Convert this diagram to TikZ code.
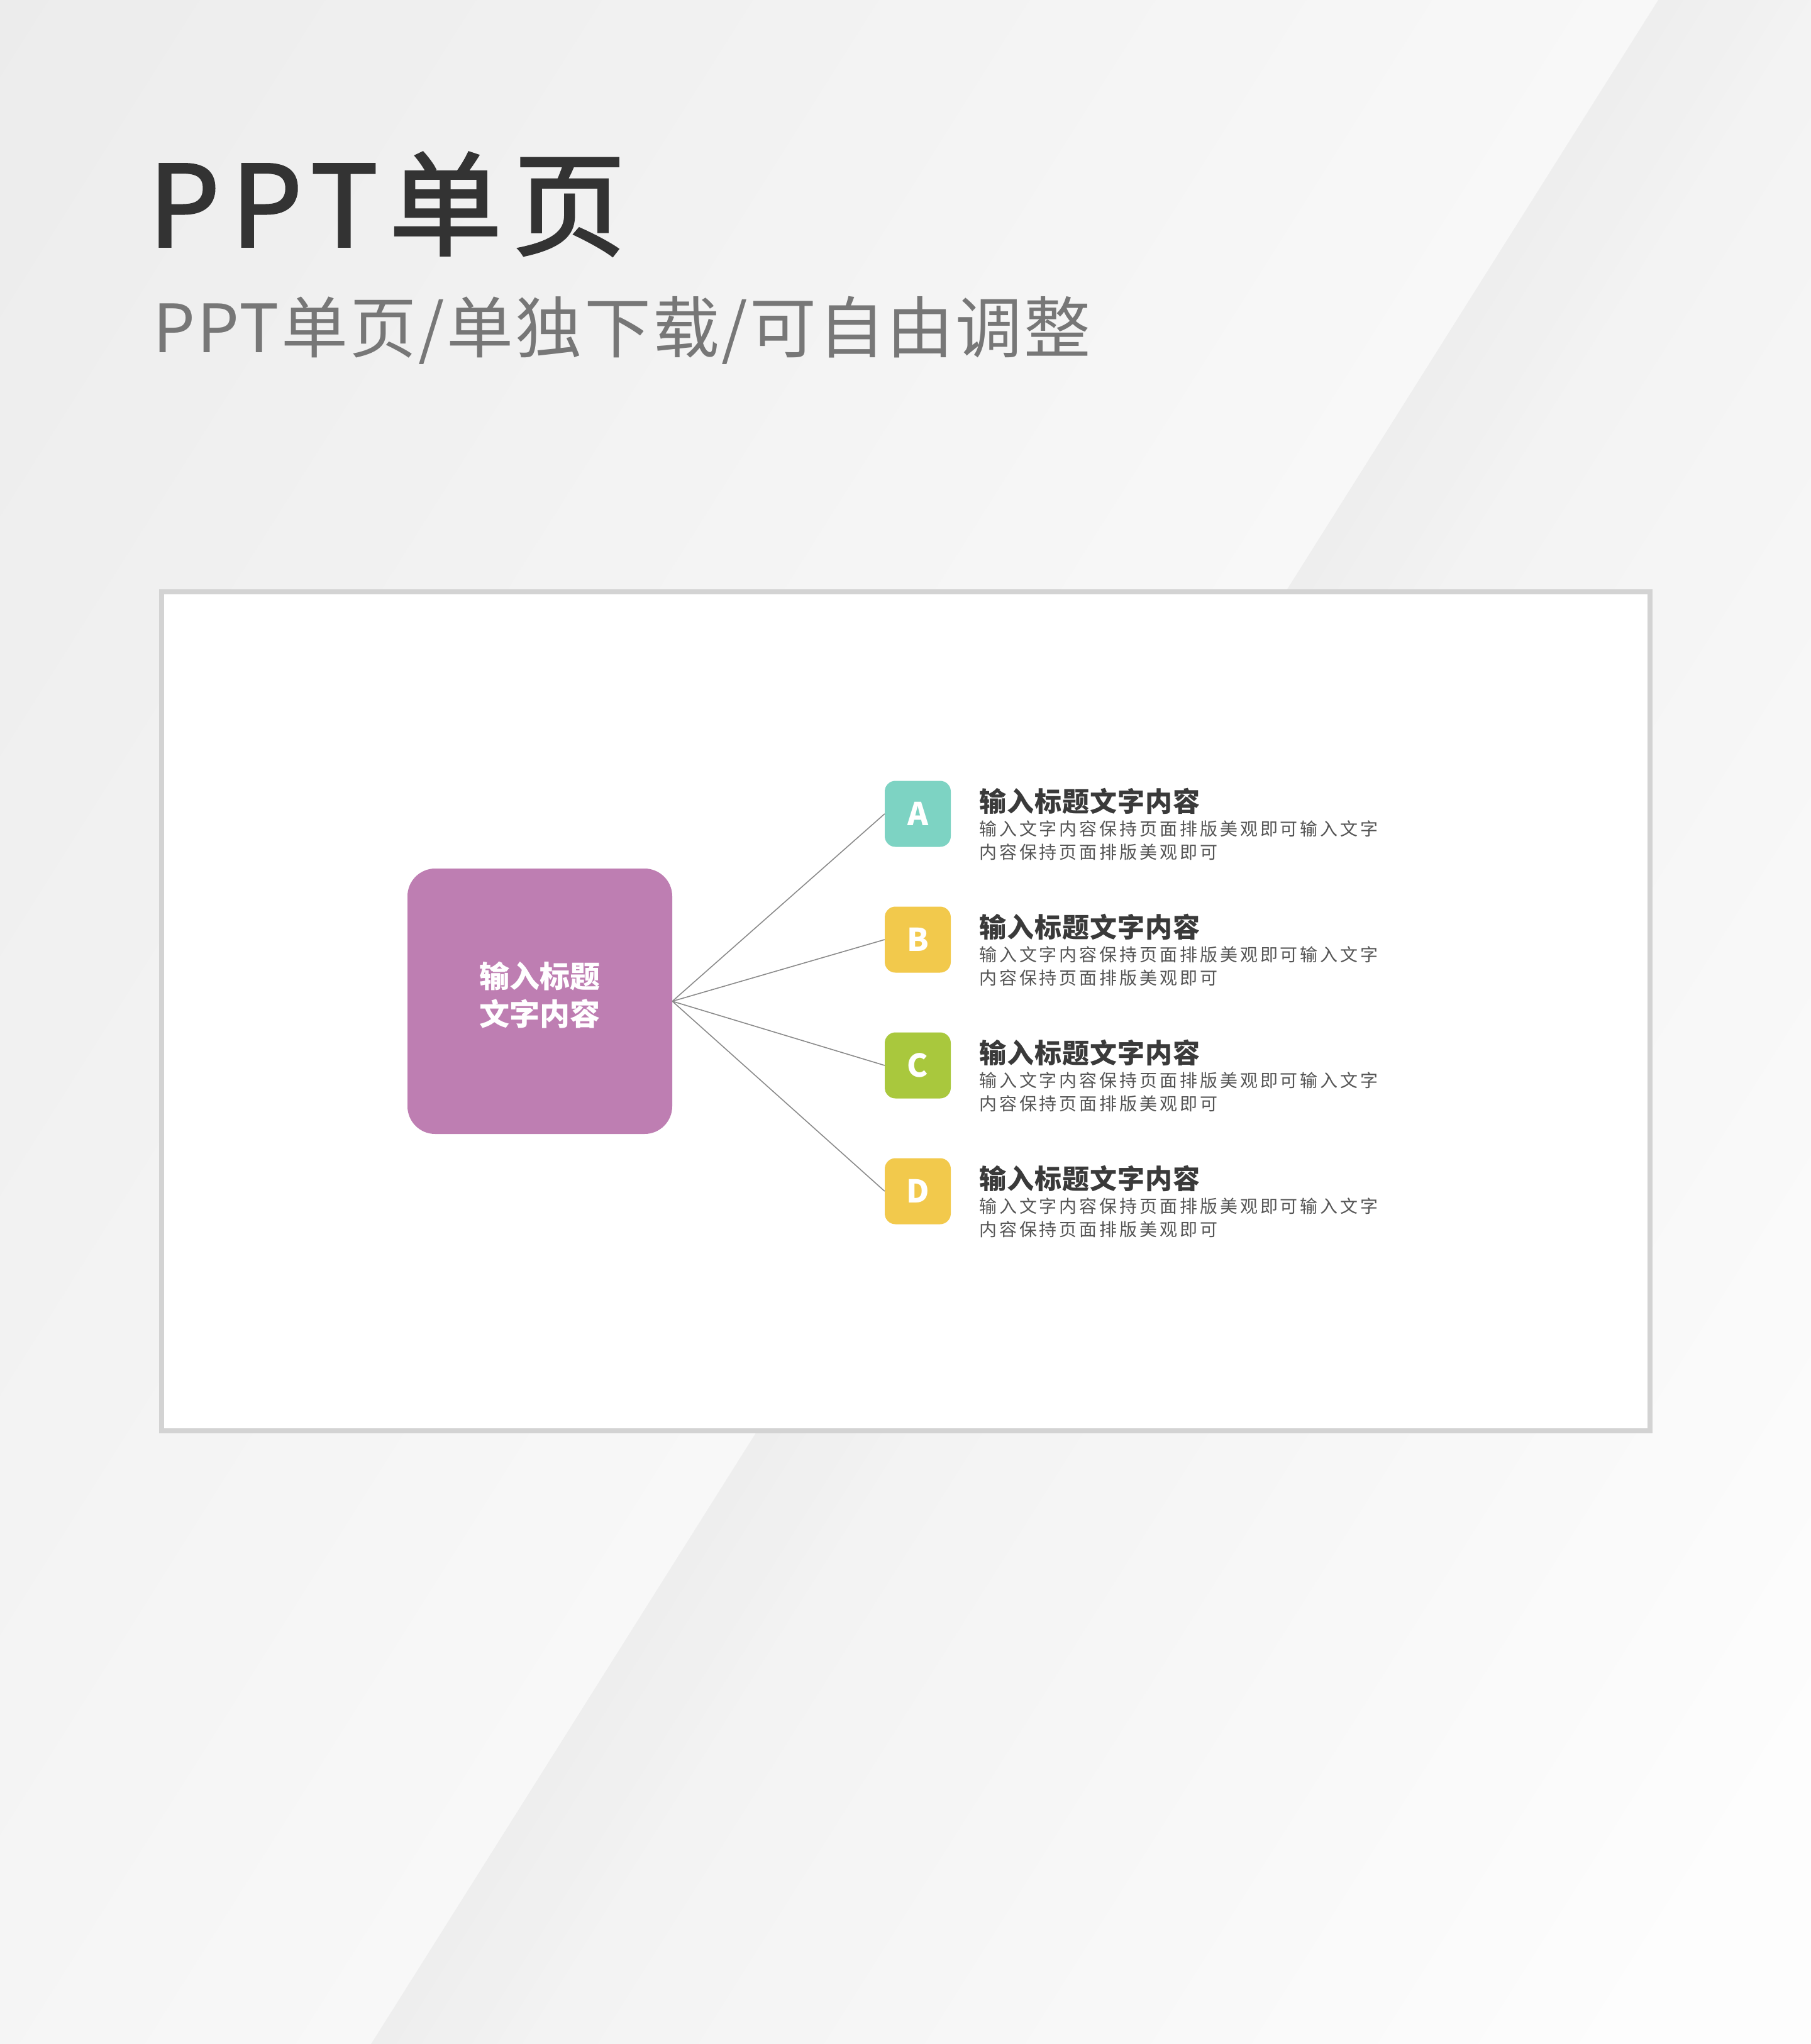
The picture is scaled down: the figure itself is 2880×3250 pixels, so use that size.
\documentclass[tikz,border=0pt]{standalone}
\usepackage{fontspec}
\setmainfont{Noto Sans CJK SC}
\newfontfamily\cjk{Noto Sans CJK SC}
\definecolor{framegray}{HTML}{D3D3D3}
\definecolor{titlegray}{HTML}{333333}
\definecolor{subgray}{HTML}{777777}
\definecolor{purplebox}{HTML}{BE7EB2}
\definecolor{cteal}{HTML}{7DD3C3}
\definecolor{cyellow}{HTML}{F2C94C}
\definecolor{cgreen}{HTML}{A9C83D}
\definecolor{headgray}{HTML}{3A3A3A}
\definecolor{bodygray}{HTML}{555555}
\definecolor{linkgray}{HTML}{8A8A8A}
\tikzset{
  mainbox/.style={draw=none, fill=purplebox, rounded corners=44pt, minimum width=421pt, minimum height=422pt, inner sep=0pt},
  maintext/.style={inner sep=0pt, align=center, text=white, font=\cjk\bfseries\fontsize{48}{60}\selectfont},
  sqbox/.style={draw=none, rounded corners=17pt, minimum width=105pt, minimum height=105pt, inner sep=0pt, text=white, font=\cjk\bfseries\fontsize{50}{50}\selectfont},
  headtext/.style={inner sep=0pt, anchor=north west, text=headgray, font=\cjk\bfseries\fontsize{43}{43}\selectfont\addfontfeatures{LetterSpace=2.5}},
  bodytext/.style={inner sep=0pt, anchor=north west, align=left, text=bodygray, font=\cjk\fontsize{28}{36.5}\selectfont\addfontfeatures{LetterSpace=14}},
  link/.style={draw=linkgray, line width=1.6pt},
  band/.style={draw=none, fill=bandc}
}
\begin{document}
\begin{tikzpicture}[x=1pt,y=-1pt]
\useasboundingbox (0,0) rectangle (2880,3250);
% background: left of the diagonal
\foreach \i in {0,...,66}{
  \pgfmathsetmacro\da{\i*40}
  \pgfmathsetmacro\db{\i*40+41}
  \pgfmathsetmacro\g{(248-12*min(1,\da/2637))/255}
  \definecolor{bandc}{gray}{\g}
  \fill[band] (2637-\db,0) -- (2637-\da,0) -- (590-\da,3250) -- (590-\db,3250) -- cycle;
}
% background: right of the diagonal
\foreach \i in {0,...,58}{
  \pgfmathsetmacro\da{\i*40}
  \pgfmathsetmacro\db{\i*40+41}
  \pgfmathsetmacro\g{(\da<250 ? 238+5*\da/250 : 243+10*min(1,(\da-250)/1750))/255}
  \definecolor{bandc}{gray}{\g}
  \fill[band] (2637+\da,0) -- (2637+\db,0) -- (590+\db,3250) -- (590+\da,3250) -- cycle;
}
% titles
\node[inner sep=0pt, anchor=base west, text=titlegray, font=\cjk\fontsize{179}{179}\selectfont\addfontfeatures{LetterSpace=10,FakeBold=2}] (title) at (236,392) {PPT单页};
\node[inner sep=0pt, anchor=base west, text=subgray, font=\cjk\fontsize{106}{106}\selectfont\addfontfeatures{LetterSpace=3}] (subtitle) at (243,560) {PPT单页/单独下载/可自由调整};
% frame
\draw[line width=8pt, draw=framegray, fill=white] (257,941) rectangle (2624,2275);
% main box
\node[mainbox] (main) at (858.5,1592) {};
\node[maintext] (maintxt) at (858.5,1582) {输入标题\\文字内容};
% squares
\node[sqbox, fill=cteal] (a) at (1459.5,1294) {A};
\node[sqbox, fill=cyellow] (b) at (1459.5,1494) {B};
\node[sqbox, fill=cgreen] (c) at (1459.5,1694) {C};
\node[sqbox, fill=cyellow] (d) at (1459.5,1894) {D};
% links
\draw[link] (main.east) -- (a.west);
\draw[link] (main.east) -- (b.west);
\draw[link] (main.east) -- (c.west);
\draw[link] (main.east) -- (d.west);
% texts
\node[headtext] (ha) at (1557,1253) {输入标题文字内容};
\node[bodytext] (ta) at (1557,1305) {输入文字内容保持页面排版美观即可输入文字\\内容保持页面排版美观即可};
\node[headtext] (hb) at (1557,1453) {输入标题文字内容};
\node[bodytext] (tb) at (1557,1505) {输入文字内容保持页面排版美观即可输入文字\\内容保持页面排版美观即可};
\node[headtext] (hc) at (1557,1653) {输入标题文字内容};
\node[bodytext] (tc) at (1557,1705) {输入文字内容保持页面排版美观即可输入文字\\内容保持页面排版美观即可};
\node[headtext] (hd) at (1557,1853) {输入标题文字内容};
\node[bodytext] (td) at (1557,1905) {输入文字内容保持页面排版美观即可输入文字\\内容保持页面排版美观即可};
\end{tikzpicture}
\end{document}
